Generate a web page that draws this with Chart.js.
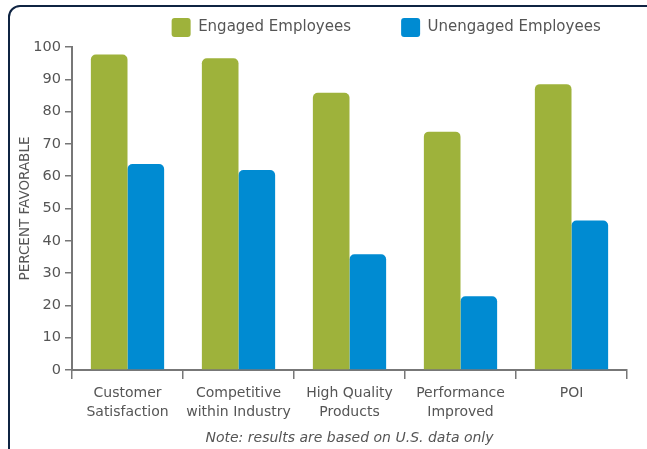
<!DOCTYPE html>
<html>
<head>
<meta charset="utf-8">
<script src="https://cdn.jsdelivr.net/npm/chart.js@4/dist/chart.umd.min.js"></script>
<style>
  html, body { margin: 0; padding: 0; background: #fff; }
  #wrap { position: relative; width: 647px; height: 449px; overflow: hidden; }
  #frame {
    position: absolute; left: 8px; top: 5px; width: 700px; height: 452px;
    border: 2.5px solid #0f2442; border-radius: 12px; pointer-events: none;
  }
</style>
</head>
<body>
<div id="wrap">
  <canvas id="barChart" width="647" height="449"></canvas>
  <div id="frame"></div>
</div>
<script>
// 分类
var categories = [
  ['Customer', 'Satisfaction'],
  ['Competitive', 'within Industry'],
  ['High Quality', 'Products'],
  ['Performance', 'Improved'],
  ['POI']
]
// 两组数值
var engaged = [97.7, 96.5, 85.8, 73.8, 88.5]
var unengaged = [63.8, 61.9, 35.8, 22.8, 46.3]
var yTicks = [0, 10, 20, 30, 40, 50, 60, 70, 80, 90, 100]

var grey = '#555'
var axisGrey = '#777'
var fontName = "'DejaVu Sans', sans-serif"

var ctx = document.getElementById('barChart').getContext('2d')

var barChart = new Chart(ctx, {
  type: 'bar',
  data: {
    labels: categories,
    datasets: [
      {
        label: 'Engaged Employees',
        data: engaged,
        backgroundColor: '#9eb23b',
        borderRadius: 5,
        barPercentage: 1,
        categoryPercentage: 0.66
      },
      {
        label: 'Unengaged Employees',
        data: unengaged,
        backgroundColor: '#008bd2',
        borderRadius: 5,
        barPercentage: 1,
        categoryPercentage: 0.66
      }
    ]
  },
  options: {
    responsive: false,
    animation: false,
    layout: { padding: { left: 14, right: 20, top: 6, bottom: 2 } },
    plugins: {
      tooltip: { enabled: false },
      legend: {
        position: 'top',
        align: 'end',
        labels: {
          color: grey,
          font: { family: fontName, size: 15 },
          boxWidth: 19,
          boxHeight: 19,
          useBorderRadius: true,
          borderRadius: 3,
          padding: 12,
          // 用空格拉开两个图例的间距
          generateLabels: function (chart) {
            var items = Chart.defaults.plugins.legend.labels.generateLabels(chart)
            items[0].text += '        '
            items[1].text += '   '
            return items
          }
        }
      }
    },
    scales: {
      x: {
        offset: true,
        afterFit: function (s) { s.height = 77 },
        grid: {
          offset: true,
          drawOnChartArea: false,
          drawTicks: true,
          tickLength: 9,
          color: axisGrey,
          lineWidth: 1.5
        },
        border: { color: axisGrey, width: 2 },
        ticks: {
          color: grey,
          font: { family: fontName, size: 14, lineHeight: 1.35 },
          maxRotation: 0,
          autoSkip: false,
          padding: 5
        },
        title: {
          display: true,
          text: 'Note: results are based on U.S. data only',
          color: grey,
          font: { family: fontName, size: 14, style: 'italic' },
          padding: { top: 2, bottom: 0 }
        }
      },
      y: {
        min: 0,
        max: 100,
        afterBuildTicks: function (s) {
          s.ticks = yTicks.map(function (v) { return { value: v } })
        },
        afterFit: function (s) { s.width = 58 },
        grid: {
          drawOnChartArea: false,
          drawTicks: true,
          tickLength: 7,
          color: axisGrey,
          lineWidth: 1.5
        },
        border: { color: axisGrey, width: 2 },
        ticks: {
          color: grey,
          font: { family: fontName, size: 14.5 },
          padding: 4
        },
        title: {
          display: true,
          text: 'PERCENT FAVORABLE',
          color: grey,
          font: { family: fontName, size: 13.5 },
          padding: { top: 3, bottom: 4 }
        }
      }
    }
  }
})
</script>
</body>
</html>
